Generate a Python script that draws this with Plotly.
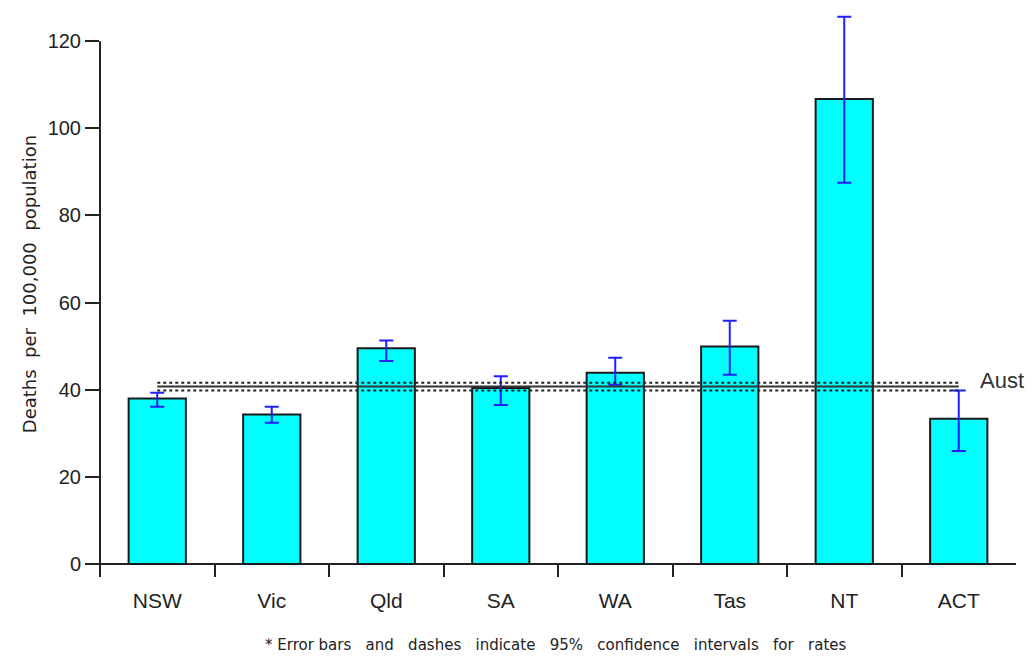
import plotly.graph_objects as go

categories = ["NSW", "Vic", "Qld", "SA", "WA", "Tas", "NT", "ACT"]
rates = [38.0, 34.3, 49.5, 40.4, 43.9, 49.9, 106.7, 33.3]
ci_upper = [39.3, 36.1, 51.3, 43.1, 47.3, 55.8, 125.6, 39.8]
ci_lower = [36.1, 32.4, 46.6, 36.5, 41.1, 43.4, 87.5, 25.9]
aust_rate = 40.7
aust_upper = 41.6
aust_lower = 39.8
y_ticks = [0, 20, 40, 60, 80, 100, 120]

err_plus = [u - r for u, r in zip(ci_upper, rates)]
err_minus = [r - l for r, l in zip(rates, ci_lower)]

font_family = "Liberation Sans, Arial, sans-serif"
wide_family = "DejaVu Sans, Liberation Sans, sans-serif"
axis_col = "#222222"

fig = go.Figure()
fig.add_trace(go.Bar(
    x=categories, y=rates, width=0.5,
    marker=dict(color="#00FFFF", line=dict(color="#1a1a1a", width=2)),
    error_y=dict(type="data", array=err_plus, arrayminus=err_minus,
                 color="#1f1fff", thickness=2, width=7),
    cliponaxis=False, showlegend=False,
))
fig.add_trace(go.Scatter(
    x=categories, y=[aust_rate] * len(categories), mode="lines",
    line=dict(color="#333333", width=2), showlegend=False, hoverinfo="skip"))
for v in (aust_upper, aust_lower):
    fig.add_trace(go.Scatter(
        x=categories, y=[v] * len(categories), mode="lines",
        line=dict(color="#222222", width=2, dash="dot"), showlegend=False, hoverinfo="skip"))

# y axis line only up to the top tick
fig.add_shape(type="line", xref="paper", yref="y", x0=0, x1=0, y0=-3, y1=y_ticks[-1],
              line=dict(color=axis_col, width=2))

fig.add_annotation(x=7.17, y=42, xref="x", yref="y", text="Aust",
                   showarrow=False, xanchor="left", yanchor="middle",
                   font=dict(size=22, color="#333333", family=font_family))
fig.add_annotation(x=-0.0775, y=0.521, xref="paper", yref="paper",
                   text="Deaths  per  100,000  population", textangle=-90,
                   showarrow=False, xanchor="center", yanchor="middle",
                   font=dict(size=18, color=axis_col, family=wide_family))
fig.add_annotation(x=0.497, y=-0.121, xref="paper", yref="paper",
                   text="* Error bars   and   dashes   indicate   95%   confidence   intervals   for   rates",
                   showarrow=False, xanchor="center", yanchor="middle",
                   font=dict(size=15, color="#222222", family=wide_family))

fig.update_layout(
    width=1034, height=656,
    margin=dict(l=92, r=26, t=7, b=87),
    plot_bgcolor="white", paper_bgcolor="white",
    bargap=0.5,
    font=dict(family=font_family, color=axis_col),
)
fig.update_xaxes(
    type="category", range=[-0.5, 7.5], tickson="boundaries", automargin=False,
    showline=False, showgrid=False, zeroline=False,
    ticks="inside", ticklen=13, tickwidth=2, tickcolor=axis_col,
    tickfont=dict(size=21, color=axis_col), ticklabelstandoff=9,
)
fig.update_yaxes(
    range=[-3, 126], tickvals=y_ticks, automargin=False,
    showline=False, showgrid=False,
    zeroline=True, zerolinecolor=axis_col, zerolinewidth=2,
    ticks="outside", ticklen=14, tickwidth=2, tickcolor=axis_col,
    tickfont=dict(size=20, color=axis_col),
)

fig.write_html("out.html")
